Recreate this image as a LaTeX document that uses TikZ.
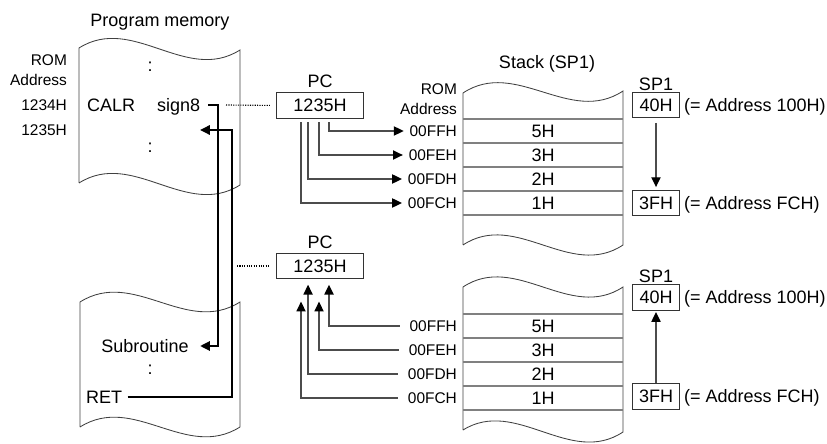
\documentclass[tikz,border=0pt]{standalone}
\usepackage{fontspec}
\setmainfont{Liberation Sans}
\usetikzlibrary{arrows.meta, positioning}

\begin{document}
\begin{tikzpicture}[x=0.025cm, y=-0.025cm,
    font=\fontsize{12.8}{15}\selectfont,
    txt/.style={inner sep=2pt, text height=9.2pt, text depth=0pt},
    addr/.style={inner sep=2pt, font=\fontsize{11}{13}\selectfont, text height=7.9pt, text depth=0pt},
    reg/.style={draw=black!80, line width=0.6pt, minimum height=18pt, inner sep=0pt, text height=9.2pt, text depth=0pt},
    paper/.style={draw=black!75, line width=0.6pt},
    row/.style={draw=black!50, line width=1.4pt},
    link/.style={draw=black!70, line width=1pt, -{Triangle[length=7pt, width=6.5pt, color=black]}},
    flow/.style={line width=2pt, -{Triangle[length=7pt, width=6.5pt]}},
    dots/.style={line width=0.8pt, dash pattern=on 0.8pt off 0.9pt}]

    \useasboundingbox (0,0) rectangle (827,444);

    % program memory (two torn pieces)
    \draw[paper] (79,183) -- (79,48) .. controls (133,14) and (186,84) .. (240,50)
        -- (240,185) .. controls (186,219) and (133,149) .. (79,183);
    \draw[paper] (80,427) -- (80,302) .. controls (134,268) and (186,336) .. (240,302)
        -- (240,427) .. controls (186,461) and (134,393) .. (80,427);

    \node[txt] (pmem) at (160,20) {Program memory};
    \node[addr, anchor=east] (romA) at (70,60) {ROM};
    \node[addr, anchor=east] (adrA) at (70,80) {Address};
    \node[addr, anchor=east] (a1234) at (70,105) {1234H};
    \node[addr, anchor=east] (a1235) at (70,130) {1235H};

    \node[txt] (dotsA) at (150,65) {:};
    \node[txt, anchor=west] (calr) at (84,105) {CALR};
    \node[txt, anchor=west] (sign) at (154,105) {sign8};
    \node[txt] (dotsB) at (150,146) {:};
    \node[txt] (sub) at (145,346) {Subroutine};
    \node[txt] (dotsC) at (150,368) {:};
    \node[txt, anchor=west] (ret) at (83,397) {RET};

    % program counter
    \node[reg, minimum width=62pt] (pcA) at (320,105.5) {1235H};
    \node[txt, above=1.2pt of pcA] (pcAlbl) {PC};
    \node[reg, minimum width=62pt] (pcB) at (320,266) {1235H};
    \node[txt, above=1.2pt of pcB] (pcBlbl) {PC};

    % stack, upper and lower
    \draw[paper] (463,245) -- (463,93) .. controls (516,58) and (570,126) .. (623,91)
        -- (623,245) .. controls (570,280) and (516,210) .. (463,245);
    \draw[paper] (463,430) -- (463,287) .. controls (516,252) and (570,322) .. (623,287)
        -- (623,432) .. controls (570,467) and (516,397) .. (463,430);
    \draw[row] (463,119) -- (623,119) (463,143) -- (623,143) (463,167) -- (623,167)
        (463,191) -- (623,191) (463,215) -- (623,215);
    \draw[row] (463,314) -- (623,314) (463,338) -- (623,338) (463,362) -- (623,362)
        (463,386) -- (623,386) (463,410) -- (623,410);

    \node[txt] (stk) at (547,62) {Stack (SP1)};
    \node[addr, anchor=east] (romB) at (460,89) {ROM};
    \node[addr, anchor=east] (adrB) at (460,109) {Address};

    \node[txt] (vA5) at (543,131) {5H};
    \node[txt] (vA3) at (543,155) {3H};
    \node[txt] (vA2) at (543,179) {2H};
    \node[txt] (vA1) at (543,203) {1H};
    \node[txt] (vB5) at (543,326) {5H};
    \node[txt] (vB3) at (543,350) {3H};
    \node[txt] (vB2) at (543,374) {2H};
    \node[txt] (vB1) at (543,398) {1H};

    \node[addr, anchor=east] (uFF) at (460,131) {00FFH};
    \node[addr, anchor=east] (uFE) at (460,155) {00FEH};
    \node[addr, anchor=east] (uFD) at (460,179) {00FDH};
    \node[addr, anchor=east] (uFC) at (460,203) {00FCH};
    \node[addr, anchor=east] (lFF) at (460,326) {00FFH};
    \node[addr, anchor=east] (lFE) at (460,350) {00FEH};
    \node[addr, anchor=east] (lFD) at (460,374) {00FDH};
    \node[addr, anchor=east] (lFC) at (460,398) {00FCH};

    % PC pushed onto the stack
    \draw[link, shorten <=2.5pt, shorten >=2pt] ([xshift=6.4pt]pcA.south) |- (uFF.west);
    \draw[link, shorten <=2.5pt, shorten >=2pt] ([xshift=-0.7pt]pcA.south) |- (uFE.west);
    \draw[link, shorten <=2.5pt, shorten >=2pt] ([xshift=-8.5pt]pcA.south) |- (uFD.west);
    \draw[link, shorten <=2.5pt, shorten >=2pt] ([xshift=-13.5pt]pcA.south) |- (uFC.west);

    % PC popped from the stack
    \draw[link, shorten <=5pt, shorten >=4pt] (lFF.west) -| ([xshift=6.4pt]pcB.south);
    \draw[link, shorten <=5pt, shorten >=16pt] (lFE.west) -| ([xshift=-0.7pt]pcB.south);
    \draw[link, shorten <=5pt, shorten >=4pt] (lFD.west) -| ([xshift=-8.5pt]pcB.south);
    \draw[link, shorten <=5pt, shorten >=16pt] (lFC.west) -| ([xshift=-13.5pt]pcB.south);

    % stack pointer
    \node[reg, minimum width=34pt] (spA) at (656,105) {40H};
    \node[txt, above=-1pt of spA] (spAlbl) {SP1};
    \node[txt, anchor=west] (spAtxt) at (681,105) {(= Address 100H)};
    \node[reg, minimum width=34pt] (spC) at (656,203) {3FH};
    \node[txt, anchor=west] (spCtxt) at (681,203) {(= Address FCH)};
    \draw[link, shorten <=3.5pt, shorten >=2pt] (spA) -- (spC);

    \node[reg, minimum width=34pt] (spB) at (656,297.5) {40H};
    \node[txt, above=-1pt of spB] (spBlbl) {SP1};
    \node[txt, anchor=west] (spBtxt) at (681,297.5) {(= Address 100H)};
    \node[reg, minimum width=34pt] (spD) at (656,396.5) {3FH};
    \node[txt, anchor=west] (spDtxt) at (681,396.5) {(= Address FCH)};
    \draw[link, shorten >=1pt] (spD) -- (spB);

    % call and return
    \coordinate (tapA) at (226,105);
    \coordinate (tapB) at (237,266);
    \draw[dots, shorten >=4.3pt] (tapA) -- (pcA.west);
    \draw[dots, shorten >=4.3pt] (tapB) -- (pcB.west);

    \coordinate (callbend) at (218,346);
    \draw[flow, shorten <=3.7pt, shorten >=6pt] (sign.east) -| (callbend) -- (sub.east);
    \coordinate (retbend) at (232,130);
    \coordinate (next) at (200,130);
    \draw[flow, shorten <=1.8pt] (ret.east) -| (retbend) -- (next);
\end{tikzpicture}
\end{document}
